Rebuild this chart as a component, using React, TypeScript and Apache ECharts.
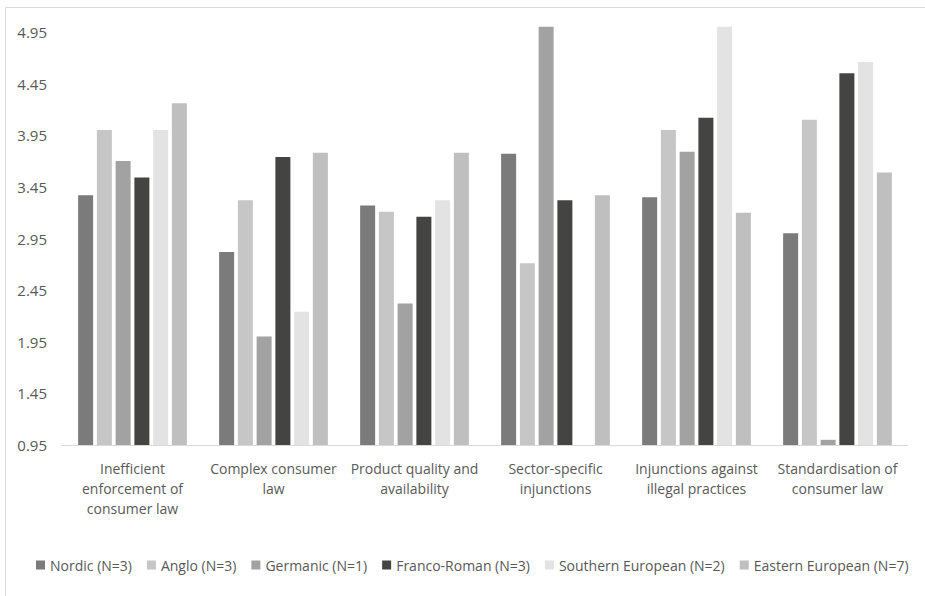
import React, { useEffect, useRef } from "react";
import * as echarts from "echarts";

const categories = [
  "Inefficient\nenforcement of\nconsumer law",
  "Complex consumer\nlaw",
  "Product quality and\navailability",
  "Sector-specific\ninjunctions",
  "Injunctions against\nillegal practices",
  "Standardisation of\nconsumer law",
];

const seriesNames = [
  "Nordic (N=3)",
  "Anglo (N=3)",
  "Germanic (N=1)",
  "Franco-Roman (N=3)",
  "Southern European (N=2)",
  "Eastern European (N=7)",
];

const nordic = [3.37, 2.82, 3.27, 3.77, 3.35, 3.0];
const anglo = [4.0, 3.32, 3.21, 2.71, 4.0, 4.1];
const germanic = [3.7, 2.0, 2.32, 5.0, 3.79, 1.0];
const francoRoman = [3.54, 3.74, 3.16, 3.32, 4.12, 4.55];
const southern: (number | null)[] = [4.0, 2.24, 3.32, null, 5.0, 4.66];
const eastern = [4.26, 3.78, 3.78, 3.37, 3.2, 3.59];

const seriesData = [nordic, anglo, germanic, francoRoman, southern, eastern];
const colors = ["#7b7b7b", "#c5c6c5", "#a2a2a2", "#444442", "#e2e3e2", "#bebfbe"];

const FONT = "'Open Sans', sans-serif";

export default function App() {
  const ref = useRef<HTMLDivElement>(null);
  useEffect(() => {
    document.body.style.margin = "0";
    if (!ref.current) return;
    const chart = echarts.init(ref.current, null, { renderer: "svg" });
    chart.setOption({
      animation: false,
      backgroundColor: "#ffffff",
      color: colors,
      textStyle: { fontFamily: FONT },
      graphic: [
        {
          type: "rect",
          shape: { x: 5.5, y: 7.5, width: 960, height: 620 },
          style: { fill: "none", stroke: "#d9d9d9", lineWidth: 1 },
          silent: true,
        },
      ],
      grid: { left: 62, right: 17, top: 21.7, bottom: 151, containLabel: false },
      legend: {
        left: 36,
        top: 558,
        padding: 0,
        itemWidth: 9,
        itemHeight: 9,
        itemGap: 15,
        icon: "rect",
        textStyle: { color: "#595959", fontSize: 14, fontFamily: FONT },
        data: seriesNames,
      },
      xAxis: {
        type: "category",
        data: categories,
        axisLine: { show: true, lineStyle: { color: "#d9d9d9", width: 1 } },
        axisTick: { show: false },
        axisLabel: {
          color: "#595959",
          fontSize: 14,
          lineHeight: 20,
          margin: 13,
          interval: 0,
          fontFamily: FONT,
        },
      },
      yAxis: {
        type: "value",
        min: 0.95,
        max: 5.05,
        interval: 0.5,
        axisLine: { show: false },
        axisTick: { show: false },
        splitLine: { show: false },
        axisLabel: {
          color: "#595959",
          fontSize: 15,
          margin: 15,
          fontFamily: FONT,
          formatter: (v: number) => (v > 5 ? "" : v.toFixed(2)),
        },
      },
      series: seriesNames.map((name, i) => ({
        name,
        type: "bar",
        data: seriesData[i],
        barWidth: 15,
        barGap: "25%",
        itemStyle: { color: colors[i] },
      })),
    });
    return () => chart.dispose();
  }, []);
  return <div ref={ref} style={{ width: 925, height: 596 }} />;
}
